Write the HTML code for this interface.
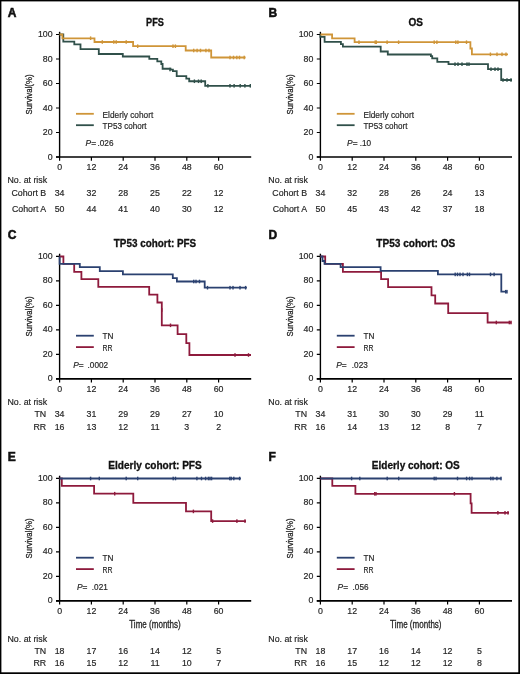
<!DOCTYPE html><html><head><meta charset="utf-8"><style>html,body{margin:0;padding:0;background:#fff;}svg{display:block;will-change:transform;}text{font-family:"Liberation Sans",sans-serif;}text.r{stroke:#262626;stroke-width:0.18;}</style></head><body>
<svg width="520" height="674" viewBox="0 0 520 674">
<rect x="0" y="0" width="520" height="674" fill="#fff"/>
<text x="7.80" y="16.80" font-size="12.0" font-weight="bold" fill="#111" stroke="#111" stroke-width="0.55">A</text>
<text x="155.00" y="25.80" font-size="10.0" text-anchor="middle" font-weight="bold" textLength="17.8" lengthAdjust="spacingAndGlyphs" fill="#111" stroke="#111" stroke-width="0.3">PFS</text>
<path d="M59.60,31.80 V157.00" stroke="#000" stroke-width="1.4" fill="none"/>
<path d="M56.00,157.00 H251.20" stroke="#000" stroke-width="1.7" fill="none"/>
<path d="M56.00,157.00 H59.60 M56.00,132.50 H59.60 M56.00,108.00 H59.60 M56.00,83.50 H59.60 M56.00,59.00 H59.60 M56.00,34.50 H59.60 M59.60,157.00 V160.70 M91.40,157.00 V160.70 M123.20,157.00 V160.70 M155.00,157.00 V160.70 M186.80,157.00 V160.70 M218.60,157.00 V160.70 " stroke="#000" stroke-width="1.2" fill="none"/>
<text x="52.60" y="159.50" font-size="8.8" text-anchor="end" fill="#262626" class="r">0</text>
<text x="52.60" y="135.00" font-size="8.8" text-anchor="end" fill="#262626" class="r">20</text>
<text x="52.60" y="110.50" font-size="8.8" text-anchor="end" fill="#262626" class="r">40</text>
<text x="52.60" y="86.00" font-size="8.8" text-anchor="end" fill="#262626" class="r">60</text>
<text x="52.60" y="61.50" font-size="8.8" text-anchor="end" fill="#262626" class="r">80</text>
<text x="52.60" y="37.00" font-size="8.8" text-anchor="end" fill="#262626" class="r">100</text>
<text x="59.60" y="170.40" font-size="8.8" text-anchor="middle" fill="#262626" class="r">0</text>
<text x="91.40" y="170.40" font-size="8.8" text-anchor="middle" fill="#262626" class="r">12</text>
<text x="123.20" y="170.40" font-size="8.8" text-anchor="middle" fill="#262626" class="r">24</text>
<text x="155.00" y="170.40" font-size="8.8" text-anchor="middle" fill="#262626" class="r">36</text>
<text x="186.80" y="170.40" font-size="8.8" text-anchor="middle" fill="#262626" class="r">48</text>
<text x="218.60" y="170.40" font-size="8.8" text-anchor="middle" fill="#262626" class="r">60</text>
<text transform="translate(32.30,94.50) rotate(-90)" x="0" y="0" font-size="9.8" text-anchor="middle" textLength="40" lengthAdjust="spacingAndGlyphs" fill="#262626" stroke="#262626" stroke-width="0.3">Survival(%)</text>
<path d="M76.00,113.80 H93.80" stroke="#CF9538" stroke-width="1.8"/>
<path d="M76.00,125.20 H93.80" stroke="#30504A" stroke-width="1.8"/>
<text x="102.60" y="118.10" font-size="8.8" textLength="50.6" lengthAdjust="spacingAndGlyphs" fill="#262626" class="r">Elderly cohort</text>
<text x="102.60" y="129.40" font-size="8.8" textLength="44.0" lengthAdjust="spacingAndGlyphs" fill="#262626" class="r">TP53 cohort</text>
<text x="85.60" y="145.80" font-size="8.4" fill="#262626" class="r"><tspan font-style="italic">P</tspan>=</text>
<text x="97.50" y="145.80" font-size="8.2" fill="#262626" class="r">.026</text>
<text x="7.50" y="183.10" font-size="8.8" fill="#262626" class="r">No. at risk</text>
<text x="46.20" y="195.70" font-size="8.8" text-anchor="end" fill="#262626" class="r">Cohort B</text>
<text x="59.60" y="195.70" font-size="8.8" text-anchor="middle" fill="#262626" class="r">34</text>
<text x="91.40" y="195.70" font-size="8.8" text-anchor="middle" fill="#262626" class="r">32</text>
<text x="123.20" y="195.70" font-size="8.8" text-anchor="middle" fill="#262626" class="r">28</text>
<text x="155.00" y="195.70" font-size="8.8" text-anchor="middle" fill="#262626" class="r">25</text>
<text x="186.80" y="195.70" font-size="8.8" text-anchor="middle" fill="#262626" class="r">22</text>
<text x="218.60" y="195.70" font-size="8.8" text-anchor="middle" fill="#262626" class="r">12</text>
<text x="46.20" y="211.50" font-size="8.8" text-anchor="end" fill="#262626" class="r">Cohort A</text>
<text x="59.60" y="211.50" font-size="8.8" text-anchor="middle" fill="#262626" class="r">50</text>
<text x="91.40" y="211.50" font-size="8.8" text-anchor="middle" fill="#262626" class="r">44</text>
<text x="123.20" y="211.50" font-size="8.8" text-anchor="middle" fill="#262626" class="r">41</text>
<text x="155.00" y="211.50" font-size="8.8" text-anchor="middle" fill="#262626" class="r">40</text>
<text x="186.80" y="211.50" font-size="8.8" text-anchor="middle" fill="#262626" class="r">30</text>
<text x="218.60" y="211.50" font-size="8.8" text-anchor="middle" fill="#262626" class="r">12</text>
<path d="M59.6,34.5 H63.3 V41.6 H74.3 V44.4 H80.5 V49.2 H98.8 V54 H122.8 V56.5 H149.3 V58.9 H157.3 V61.3 H161.3 V64 H162.6 V68.75 H170.5 V69.7 H172.9 V71.2 H176.7 V76.2 H186.3 V78.7 H189.2 V81.25 H205.2 V85.8 H251" stroke="#30504A" stroke-width="1.8" fill="none" stroke-linejoin="miter"/>
<rect x="169.30" y="67.70" width="1.4" height="3.6" fill="#30504A"/>
<rect x="193.70" y="79.45" width="1.4" height="3.6" fill="#30504A"/>
<rect x="197.80" y="79.45" width="1.4" height="3.6" fill="#30504A"/>
<rect x="200.50" y="79.45" width="1.4" height="3.6" fill="#30504A"/>
<rect x="207.20" y="84.00" width="1.4" height="3.6" fill="#30504A"/>
<rect x="229.30" y="84.00" width="1.4" height="3.6" fill="#30504A"/>
<rect x="233.40" y="84.00" width="1.4" height="3.6" fill="#30504A"/>
<rect x="239.50" y="84.00" width="1.4" height="3.6" fill="#30504A"/>
<rect x="244.20" y="84.00" width="1.4" height="3.6" fill="#30504A"/>
<rect x="249.60" y="84.00" width="1.4" height="3.6" fill="#30504A"/>
<path d="M59.6,34.5 H62.4 V38.3 H94.5 V42 H133.1 V46.2 H185.7 V50.5 H211.2 V57.5 H245.6" stroke="#CF9538" stroke-width="1.8" fill="none" stroke-linejoin="miter"/>
<rect x="89.90" y="36.40" width="1.4" height="3.6" fill="#CF9538"/>
<rect x="101.60" y="40.20" width="1.4" height="3.6" fill="#CF9538"/>
<rect x="113.10" y="40.20" width="1.4" height="3.6" fill="#CF9538"/>
<rect x="115.50" y="40.20" width="1.4" height="3.6" fill="#CF9538"/>
<rect x="125.50" y="40.20" width="1.4" height="3.6" fill="#CF9538"/>
<rect x="137.00" y="44.40" width="1.4" height="3.6" fill="#CF9538"/>
<rect x="172.30" y="44.40" width="1.4" height="3.6" fill="#CF9538"/>
<rect x="174.70" y="44.40" width="1.4" height="3.6" fill="#CF9538"/>
<rect x="193.00" y="48.70" width="1.4" height="3.6" fill="#CF9538"/>
<rect x="196.40" y="48.70" width="1.4" height="3.6" fill="#CF9538"/>
<rect x="199.80" y="48.70" width="1.4" height="3.6" fill="#CF9538"/>
<rect x="205.20" y="48.70" width="1.4" height="3.6" fill="#CF9538"/>
<rect x="208.30" y="48.70" width="1.4" height="3.6" fill="#CF9538"/>
<rect x="229.30" y="55.70" width="1.4" height="3.6" fill="#CF9538"/>
<rect x="232.80" y="55.70" width="1.4" height="3.6" fill="#CF9538"/>
<rect x="236.10" y="55.70" width="1.4" height="3.6" fill="#CF9538"/>
<rect x="238.80" y="55.70" width="1.4" height="3.6" fill="#CF9538"/>
<rect x="243.50" y="55.70" width="1.4" height="3.6" fill="#CF9538"/>
<text x="268.60" y="16.80" font-size="12.0" font-weight="bold" fill="#111" stroke="#111" stroke-width="0.55">B</text>
<text x="415.80" y="25.80" font-size="10.0" text-anchor="middle" font-weight="bold" textLength="14.5" lengthAdjust="spacingAndGlyphs" fill="#111" stroke="#111" stroke-width="0.3">OS</text>
<path d="M320.40,31.80 V157.00" stroke="#000" stroke-width="1.4" fill="none"/>
<path d="M316.80,157.00 H512.00" stroke="#000" stroke-width="1.7" fill="none"/>
<path d="M316.80,157.00 H320.40 M316.80,132.50 H320.40 M316.80,108.00 H320.40 M316.80,83.50 H320.40 M316.80,59.00 H320.40 M316.80,34.50 H320.40 M320.40,157.00 V160.70 M352.20,157.00 V160.70 M384.00,157.00 V160.70 M415.80,157.00 V160.70 M447.60,157.00 V160.70 M479.40,157.00 V160.70 " stroke="#000" stroke-width="1.2" fill="none"/>
<text x="313.40" y="159.50" font-size="8.8" text-anchor="end" fill="#262626" class="r">0</text>
<text x="313.40" y="135.00" font-size="8.8" text-anchor="end" fill="#262626" class="r">20</text>
<text x="313.40" y="110.50" font-size="8.8" text-anchor="end" fill="#262626" class="r">40</text>
<text x="313.40" y="86.00" font-size="8.8" text-anchor="end" fill="#262626" class="r">60</text>
<text x="313.40" y="61.50" font-size="8.8" text-anchor="end" fill="#262626" class="r">80</text>
<text x="313.40" y="37.00" font-size="8.8" text-anchor="end" fill="#262626" class="r">100</text>
<text x="320.40" y="170.40" font-size="8.8" text-anchor="middle" fill="#262626" class="r">0</text>
<text x="352.20" y="170.40" font-size="8.8" text-anchor="middle" fill="#262626" class="r">12</text>
<text x="384.00" y="170.40" font-size="8.8" text-anchor="middle" fill="#262626" class="r">24</text>
<text x="415.80" y="170.40" font-size="8.8" text-anchor="middle" fill="#262626" class="r">36</text>
<text x="447.60" y="170.40" font-size="8.8" text-anchor="middle" fill="#262626" class="r">48</text>
<text x="479.40" y="170.40" font-size="8.8" text-anchor="middle" fill="#262626" class="r">60</text>
<text transform="translate(293.10,94.50) rotate(-90)" x="0" y="0" font-size="9.8" text-anchor="middle" textLength="40" lengthAdjust="spacingAndGlyphs" fill="#262626" stroke="#262626" stroke-width="0.3">Survival(%)</text>
<path d="M336.80,113.80 H354.60" stroke="#CF9538" stroke-width="1.8"/>
<path d="M336.80,125.20 H354.60" stroke="#30504A" stroke-width="1.8"/>
<text x="363.40" y="118.10" font-size="8.8" textLength="50.6" lengthAdjust="spacingAndGlyphs" fill="#262626" class="r">Elderly cohort</text>
<text x="363.40" y="129.40" font-size="8.8" textLength="44.0" lengthAdjust="spacingAndGlyphs" fill="#262626" class="r">TP53 cohort</text>
<text x="347.10" y="145.80" font-size="8.4" fill="#262626" class="r"><tspan font-style="italic">P</tspan>=</text>
<text x="359.70" y="145.80" font-size="8.2" fill="#262626" class="r">.10</text>
<text x="268.30" y="183.10" font-size="8.8" fill="#262626" class="r">No. at risk</text>
<text x="307.00" y="195.70" font-size="8.8" text-anchor="end" fill="#262626" class="r">Cohort B</text>
<text x="320.40" y="195.70" font-size="8.8" text-anchor="middle" fill="#262626" class="r">34</text>
<text x="352.20" y="195.70" font-size="8.8" text-anchor="middle" fill="#262626" class="r">32</text>
<text x="384.00" y="195.70" font-size="8.8" text-anchor="middle" fill="#262626" class="r">28</text>
<text x="415.80" y="195.70" font-size="8.8" text-anchor="middle" fill="#262626" class="r">26</text>
<text x="447.60" y="195.70" font-size="8.8" text-anchor="middle" fill="#262626" class="r">24</text>
<text x="479.40" y="195.70" font-size="8.8" text-anchor="middle" fill="#262626" class="r">13</text>
<text x="307.00" y="211.50" font-size="8.8" text-anchor="end" fill="#262626" class="r">Cohort A</text>
<text x="320.40" y="211.50" font-size="8.8" text-anchor="middle" fill="#262626" class="r">50</text>
<text x="352.20" y="211.50" font-size="8.8" text-anchor="middle" fill="#262626" class="r">45</text>
<text x="384.00" y="211.50" font-size="8.8" text-anchor="middle" fill="#262626" class="r">43</text>
<text x="415.80" y="211.50" font-size="8.8" text-anchor="middle" fill="#262626" class="r">42</text>
<text x="447.60" y="211.50" font-size="8.8" text-anchor="middle" fill="#262626" class="r">37</text>
<text x="479.40" y="211.50" font-size="8.8" text-anchor="middle" fill="#262626" class="r">18</text>
<path d="M320.4,34.5 V36.9 H324.6 V41.8 H340.9 V44.1 H342.9 V46.6 H380.7 V51.5 H387.8 V54.5 H430.9 V56.2 H432.2 V58.3 H437.3 V61.8 H448.5 V64.2 H488 V69.2 H501.2 V80 H512" stroke="#30504A" stroke-width="1.8" fill="none" stroke-linejoin="miter"/>
<rect x="454.30" y="62.40" width="1.4" height="3.6" fill="#30504A"/>
<rect x="457.30" y="62.40" width="1.4" height="3.6" fill="#30504A"/>
<rect x="461.30" y="62.40" width="1.4" height="3.6" fill="#30504A"/>
<rect x="466.30" y="62.40" width="1.4" height="3.6" fill="#30504A"/>
<rect x="468.30" y="62.40" width="1.4" height="3.6" fill="#30504A"/>
<rect x="490.30" y="67.40" width="1.4" height="3.6" fill="#30504A"/>
<rect x="494.30" y="67.40" width="1.4" height="3.6" fill="#30504A"/>
<rect x="497.30" y="67.40" width="1.4" height="3.6" fill="#30504A"/>
<rect x="502.30" y="78.20" width="1.4" height="3.6" fill="#30504A"/>
<rect x="506.30" y="78.20" width="1.4" height="3.6" fill="#30504A"/>
<rect x="510.30" y="78.20" width="1.4" height="3.6" fill="#30504A"/>
<path d="M320.4,34.5 H332.1 V38.3 H354.6 V42.2 H470.4 V48.5 H471.9 V54.3 H508" stroke="#CF9538" stroke-width="1.8" fill="none" stroke-linejoin="miter"/>
<rect x="358.30" y="40.40" width="1.4" height="3.6" fill="#CF9538"/>
<rect x="374.50" y="40.40" width="1.4" height="3.6" fill="#CF9538"/>
<rect x="375.60" y="40.40" width="1.4" height="3.6" fill="#CF9538"/>
<rect x="386.40" y="40.40" width="1.4" height="3.6" fill="#CF9538"/>
<rect x="397.90" y="40.40" width="1.4" height="3.6" fill="#CF9538"/>
<rect x="433.50" y="40.40" width="1.4" height="3.6" fill="#CF9538"/>
<rect x="436.20" y="40.40" width="1.4" height="3.6" fill="#CF9538"/>
<rect x="455.10" y="40.40" width="1.4" height="3.6" fill="#CF9538"/>
<rect x="457.20" y="40.40" width="1.4" height="3.6" fill="#CF9538"/>
<rect x="465.80" y="40.40" width="1.4" height="3.6" fill="#CF9538"/>
<rect x="489.70" y="52.50" width="1.4" height="3.6" fill="#CF9538"/>
<rect x="496.30" y="52.50" width="1.4" height="3.6" fill="#CF9538"/>
<rect x="501.30" y="52.50" width="1.4" height="3.6" fill="#CF9538"/>
<rect x="505.30" y="52.50" width="1.4" height="3.6" fill="#CF9538"/>
<text x="7.80" y="238.70" font-size="12.0" font-weight="bold" fill="#111" stroke="#111" stroke-width="0.55">C</text>
<text x="155.00" y="247.30" font-size="10.0" text-anchor="middle" font-weight="bold" textLength="82.4" lengthAdjust="spacingAndGlyphs" fill="#111" stroke="#111" stroke-width="0.3">TP53 cohort: PFS</text>
<path d="M59.60,253.70 V378.90" stroke="#000" stroke-width="1.4" fill="none"/>
<path d="M56.00,378.90 H251.20" stroke="#000" stroke-width="1.7" fill="none"/>
<path d="M56.00,378.90 H59.60 M56.00,354.40 H59.60 M56.00,329.90 H59.60 M56.00,305.40 H59.60 M56.00,280.90 H59.60 M56.00,256.40 H59.60 M59.60,378.90 V382.60 M91.40,378.90 V382.60 M123.20,378.90 V382.60 M155.00,378.90 V382.60 M186.80,378.90 V382.60 M218.60,378.90 V382.60 " stroke="#000" stroke-width="1.2" fill="none"/>
<text x="52.60" y="381.40" font-size="8.8" text-anchor="end" fill="#262626" class="r">0</text>
<text x="52.60" y="356.90" font-size="8.8" text-anchor="end" fill="#262626" class="r">20</text>
<text x="52.60" y="332.40" font-size="8.8" text-anchor="end" fill="#262626" class="r">40</text>
<text x="52.60" y="307.90" font-size="8.8" text-anchor="end" fill="#262626" class="r">60</text>
<text x="52.60" y="283.40" font-size="8.8" text-anchor="end" fill="#262626" class="r">80</text>
<text x="52.60" y="258.90" font-size="8.8" text-anchor="end" fill="#262626" class="r">100</text>
<text x="59.60" y="392.30" font-size="8.8" text-anchor="middle" fill="#262626" class="r">0</text>
<text x="91.40" y="392.30" font-size="8.8" text-anchor="middle" fill="#262626" class="r">12</text>
<text x="123.20" y="392.30" font-size="8.8" text-anchor="middle" fill="#262626" class="r">24</text>
<text x="155.00" y="392.30" font-size="8.8" text-anchor="middle" fill="#262626" class="r">36</text>
<text x="186.80" y="392.30" font-size="8.8" text-anchor="middle" fill="#262626" class="r">48</text>
<text x="218.60" y="392.30" font-size="8.8" text-anchor="middle" fill="#262626" class="r">60</text>
<text transform="translate(32.30,316.40) rotate(-90)" x="0" y="0" font-size="9.8" text-anchor="middle" textLength="40" lengthAdjust="spacingAndGlyphs" fill="#262626" stroke="#262626" stroke-width="0.3">Survival(%)</text>
<path d="M76.00,335.70 H93.80" stroke="#2B4170" stroke-width="1.8"/>
<path d="M76.00,347.10 H93.80" stroke="#8E1A3C" stroke-width="1.8"/>
<text x="102.60" y="339.40" font-size="8.8" textLength="10.9" lengthAdjust="spacingAndGlyphs" fill="#262626" class="r">TN</text>
<text x="102.60" y="351.30" font-size="8.8" textLength="10.0" lengthAdjust="spacingAndGlyphs" fill="#262626" class="r">RR</text>
<text x="73.20" y="367.70" font-size="8.4" fill="#262626" class="r"><tspan font-style="italic">P</tspan>=</text>
<text x="87.60" y="367.70" font-size="8.2" fill="#262626" class="r">.0002</text>
<text x="7.50" y="405.40" font-size="8.8" fill="#262626" class="r">No. at risk</text>
<text x="46.20" y="417.40" font-size="8.8" text-anchor="end" fill="#262626" class="r">TN</text>
<text x="59.60" y="417.40" font-size="8.8" text-anchor="middle" fill="#262626" class="r">34</text>
<text x="91.40" y="417.40" font-size="8.8" text-anchor="middle" fill="#262626" class="r">31</text>
<text x="123.20" y="417.40" font-size="8.8" text-anchor="middle" fill="#262626" class="r">29</text>
<text x="155.00" y="417.40" font-size="8.8" text-anchor="middle" fill="#262626" class="r">29</text>
<text x="186.80" y="417.40" font-size="8.8" text-anchor="middle" fill="#262626" class="r">27</text>
<text x="218.60" y="417.40" font-size="8.8" text-anchor="middle" fill="#262626" class="r">10</text>
<text x="46.20" y="430.00" font-size="8.8" text-anchor="end" fill="#262626" class="r">RR</text>
<text x="59.60" y="430.00" font-size="8.8" text-anchor="middle" fill="#262626" class="r">16</text>
<text x="91.40" y="430.00" font-size="8.8" text-anchor="middle" fill="#262626" class="r">13</text>
<text x="123.20" y="430.00" font-size="8.8" text-anchor="middle" fill="#262626" class="r">12</text>
<text x="155.00" y="430.00" font-size="8.8" text-anchor="middle" fill="#262626" class="r">11</text>
<text x="186.80" y="430.00" font-size="8.8" text-anchor="middle" fill="#262626" class="r">3</text>
<text x="218.60" y="430.00" font-size="8.8" text-anchor="middle" fill="#262626" class="r">2</text>
<path d="M59.6,256.5 H63.4 V263.8 H74.2 V271.8 H81.4 V279.2 H98.3 V286.9 H149.2 V294.7 H157.4 V302.5 H161.8 V325.3 H177.6 V334.1 H186.3 V343.2 H189.4 V355 H251" stroke="#8E1A3C" stroke-width="1.8" fill="none" stroke-linejoin="miter"/>
<rect x="161.10" y="308.20" width="1.4" height="3.6" fill="#8E1A3C"/>
<rect x="169.80" y="323.50" width="1.4" height="3.6" fill="#8E1A3C"/>
<rect x="234.30" y="353.20" width="1.4" height="3.6" fill="#8E1A3C"/>
<rect x="247.80" y="353.20" width="1.4" height="3.6" fill="#8E1A3C"/>
<path d="M59.6,256.5 V263.8 H79.8 V267.2 H99.8 V271.2 H122.9 V274.3 H172.8 V278.2 H176.9 V281.5 H204.7 V287.7 H246.9" stroke="#2B4170" stroke-width="1.8" fill="none" stroke-linejoin="miter"/>
<rect x="193.05" y="279.70" width="1.4" height="3.6" fill="#2B4170"/>
<rect x="195.30" y="279.70" width="1.4" height="3.6" fill="#2B4170"/>
<rect x="198.80" y="279.70" width="1.4" height="3.6" fill="#2B4170"/>
<rect x="206.80" y="285.90" width="1.4" height="3.6" fill="#2B4170"/>
<rect x="229.30" y="285.90" width="1.4" height="3.6" fill="#2B4170"/>
<rect x="232.30" y="285.90" width="1.4" height="3.6" fill="#2B4170"/>
<rect x="239.30" y="285.90" width="1.4" height="3.6" fill="#2B4170"/>
<rect x="244.90" y="285.90" width="1.4" height="3.6" fill="#2B4170"/>
<text x="268.60" y="238.70" font-size="12.0" font-weight="bold" fill="#111" stroke="#111" stroke-width="0.55">D</text>
<text x="415.80" y="247.30" font-size="10.0" text-anchor="middle" font-weight="bold" textLength="79" lengthAdjust="spacingAndGlyphs" fill="#111" stroke="#111" stroke-width="0.3">TP53 cohort: OS</text>
<path d="M320.40,253.70 V378.90" stroke="#000" stroke-width="1.4" fill="none"/>
<path d="M316.80,378.90 H512.00" stroke="#000" stroke-width="1.7" fill="none"/>
<path d="M316.80,378.90 H320.40 M316.80,354.40 H320.40 M316.80,329.90 H320.40 M316.80,305.40 H320.40 M316.80,280.90 H320.40 M316.80,256.40 H320.40 M320.40,378.90 V382.60 M352.20,378.90 V382.60 M384.00,378.90 V382.60 M415.80,378.90 V382.60 M447.60,378.90 V382.60 M479.40,378.90 V382.60 " stroke="#000" stroke-width="1.2" fill="none"/>
<text x="313.40" y="381.40" font-size="8.8" text-anchor="end" fill="#262626" class="r">0</text>
<text x="313.40" y="356.90" font-size="8.8" text-anchor="end" fill="#262626" class="r">20</text>
<text x="313.40" y="332.40" font-size="8.8" text-anchor="end" fill="#262626" class="r">40</text>
<text x="313.40" y="307.90" font-size="8.8" text-anchor="end" fill="#262626" class="r">60</text>
<text x="313.40" y="283.40" font-size="8.8" text-anchor="end" fill="#262626" class="r">80</text>
<text x="313.40" y="258.90" font-size="8.8" text-anchor="end" fill="#262626" class="r">100</text>
<text x="320.40" y="392.30" font-size="8.8" text-anchor="middle" fill="#262626" class="r">0</text>
<text x="352.20" y="392.30" font-size="8.8" text-anchor="middle" fill="#262626" class="r">12</text>
<text x="384.00" y="392.30" font-size="8.8" text-anchor="middle" fill="#262626" class="r">24</text>
<text x="415.80" y="392.30" font-size="8.8" text-anchor="middle" fill="#262626" class="r">36</text>
<text x="447.60" y="392.30" font-size="8.8" text-anchor="middle" fill="#262626" class="r">48</text>
<text x="479.40" y="392.30" font-size="8.8" text-anchor="middle" fill="#262626" class="r">60</text>
<text transform="translate(293.10,316.40) rotate(-90)" x="0" y="0" font-size="9.8" text-anchor="middle" textLength="40" lengthAdjust="spacingAndGlyphs" fill="#262626" stroke="#262626" stroke-width="0.3">Survival(%)</text>
<path d="M336.80,335.70 H354.60" stroke="#2B4170" stroke-width="1.8"/>
<path d="M336.80,347.10 H354.60" stroke="#8E1A3C" stroke-width="1.8"/>
<text x="363.40" y="339.40" font-size="8.8" textLength="10.9" lengthAdjust="spacingAndGlyphs" fill="#262626" class="r">TN</text>
<text x="363.40" y="351.30" font-size="8.8" textLength="10.0" lengthAdjust="spacingAndGlyphs" fill="#262626" class="r">RR</text>
<text x="336.20" y="367.70" font-size="8.4" fill="#262626" class="r"><tspan font-style="italic">P</tspan>=</text>
<text x="351.80" y="367.70" font-size="8.2" fill="#262626" class="r">.023</text>
<text x="268.30" y="405.40" font-size="8.8" fill="#262626" class="r">No. at risk</text>
<text x="307.00" y="417.40" font-size="8.8" text-anchor="end" fill="#262626" class="r">TN</text>
<text x="320.40" y="417.40" font-size="8.8" text-anchor="middle" fill="#262626" class="r">34</text>
<text x="352.20" y="417.40" font-size="8.8" text-anchor="middle" fill="#262626" class="r">31</text>
<text x="384.00" y="417.40" font-size="8.8" text-anchor="middle" fill="#262626" class="r">30</text>
<text x="415.80" y="417.40" font-size="8.8" text-anchor="middle" fill="#262626" class="r">30</text>
<text x="447.60" y="417.40" font-size="8.8" text-anchor="middle" fill="#262626" class="r">29</text>
<text x="479.40" y="417.40" font-size="8.8" text-anchor="middle" fill="#262626" class="r">11</text>
<text x="307.00" y="430.00" font-size="8.8" text-anchor="end" fill="#262626" class="r">RR</text>
<text x="320.40" y="430.00" font-size="8.8" text-anchor="middle" fill="#262626" class="r">16</text>
<text x="352.20" y="430.00" font-size="8.8" text-anchor="middle" fill="#262626" class="r">14</text>
<text x="384.00" y="430.00" font-size="8.8" text-anchor="middle" fill="#262626" class="r">13</text>
<text x="415.80" y="430.00" font-size="8.8" text-anchor="middle" fill="#262626" class="r">12</text>
<text x="447.60" y="430.00" font-size="8.8" text-anchor="middle" fill="#262626" class="r">8</text>
<text x="479.40" y="430.00" font-size="8.8" text-anchor="middle" fill="#262626" class="r">7</text>
<path d="M320.4,256.5 H325.2 V263.8 H342.9 V271.8 H381.1 V279.1 H388.1 V287.2 H431.5 V295.3 H435.2 V303.5 H448.2 V313.1 H487.6 V322.5 H511.4" stroke="#8E1A3C" stroke-width="1.8" fill="none" stroke-linejoin="miter"/>
<rect x="495.60" y="320.70" width="1.4" height="3.6" fill="#8E1A3C"/>
<rect x="508.60" y="320.70" width="1.4" height="3.6" fill="#8E1A3C"/>
<rect x="510.30" y="320.70" width="1.4" height="3.6" fill="#8E1A3C"/>
<path d="M320.4,256.5 H322.5 V261 H324.5 V263.8 H340.6 V267.2 H380.6 V270.8 H437.9 V274.4 H501.3 V291.7 H507.1" stroke="#2B4170" stroke-width="1.8" fill="none" stroke-linejoin="miter"/>
<rect x="454.50" y="272.60" width="1.4" height="3.6" fill="#2B4170"/>
<rect x="456.80" y="272.60" width="1.4" height="3.6" fill="#2B4170"/>
<rect x="459.30" y="272.60" width="1.4" height="3.6" fill="#2B4170"/>
<rect x="462.30" y="272.60" width="1.4" height="3.6" fill="#2B4170"/>
<rect x="466.70" y="272.60" width="1.4" height="3.6" fill="#2B4170"/>
<rect x="468.80" y="272.60" width="1.4" height="3.6" fill="#2B4170"/>
<rect x="489.80" y="272.60" width="1.4" height="3.6" fill="#2B4170"/>
<rect x="493.40" y="272.60" width="1.4" height="3.6" fill="#2B4170"/>
<rect x="505.00" y="289.90" width="1.4" height="3.6" fill="#2B4170"/>
<rect x="506.30" y="289.90" width="1.4" height="3.6" fill="#2B4170"/>
<text x="7.80" y="460.70" font-size="12.0" font-weight="bold" fill="#111" stroke="#111" stroke-width="0.55">E</text>
<text x="155.00" y="469.30" font-size="10.0" text-anchor="middle" font-weight="bold" textLength="93.5" lengthAdjust="spacingAndGlyphs" fill="#111" stroke="#111" stroke-width="0.3">Elderly cohort: PFS</text>
<path d="M59.60,475.70 V600.90" stroke="#000" stroke-width="1.4" fill="none"/>
<path d="M56.00,600.90 H251.20" stroke="#000" stroke-width="1.7" fill="none"/>
<path d="M56.00,600.90 H59.60 M56.00,576.40 H59.60 M56.00,551.90 H59.60 M56.00,527.40 H59.60 M56.00,502.90 H59.60 M56.00,478.40 H59.60 M59.60,600.90 V604.60 M91.40,600.90 V604.60 M123.20,600.90 V604.60 M155.00,600.90 V604.60 M186.80,600.90 V604.60 M218.60,600.90 V604.60 " stroke="#000" stroke-width="1.2" fill="none"/>
<text x="52.60" y="603.40" font-size="8.8" text-anchor="end" fill="#262626" class="r">0</text>
<text x="52.60" y="578.90" font-size="8.8" text-anchor="end" fill="#262626" class="r">20</text>
<text x="52.60" y="554.40" font-size="8.8" text-anchor="end" fill="#262626" class="r">40</text>
<text x="52.60" y="529.90" font-size="8.8" text-anchor="end" fill="#262626" class="r">60</text>
<text x="52.60" y="505.40" font-size="8.8" text-anchor="end" fill="#262626" class="r">80</text>
<text x="52.60" y="480.90" font-size="8.8" text-anchor="end" fill="#262626" class="r">100</text>
<text x="59.60" y="614.30" font-size="8.8" text-anchor="middle" fill="#262626" class="r">0</text>
<text x="91.40" y="614.30" font-size="8.8" text-anchor="middle" fill="#262626" class="r">12</text>
<text x="123.20" y="614.30" font-size="8.8" text-anchor="middle" fill="#262626" class="r">24</text>
<text x="155.00" y="614.30" font-size="8.8" text-anchor="middle" fill="#262626" class="r">36</text>
<text x="186.80" y="614.30" font-size="8.8" text-anchor="middle" fill="#262626" class="r">48</text>
<text x="218.60" y="614.30" font-size="8.8" text-anchor="middle" fill="#262626" class="r">60</text>
<text transform="translate(32.30,538.40) rotate(-90)" x="0" y="0" font-size="9.8" text-anchor="middle" textLength="40" lengthAdjust="spacingAndGlyphs" fill="#262626" stroke="#262626" stroke-width="0.3">Survival(%)</text>
<path d="M76.00,557.70 H93.80" stroke="#2B4170" stroke-width="1.8"/>
<path d="M76.00,569.10 H93.80" stroke="#8E1A3C" stroke-width="1.8"/>
<text x="102.60" y="561.40" font-size="8.8" textLength="10.9" lengthAdjust="spacingAndGlyphs" fill="#262626" class="r">TN</text>
<text x="102.60" y="573.30" font-size="8.8" textLength="10.0" lengthAdjust="spacingAndGlyphs" fill="#262626" class="r">RR</text>
<text x="76.90" y="589.70" font-size="8.4" fill="#262626" class="r"><tspan font-style="italic">P</tspan>=</text>
<text x="91.80" y="589.70" font-size="8.2" fill="#262626" class="r">.021</text>
<text x="7.50" y="641.50" font-size="8.8" fill="#262626" class="r">No. at risk</text>
<text x="46.20" y="653.80" font-size="8.8" text-anchor="end" fill="#262626" class="r">TN</text>
<text x="59.60" y="653.80" font-size="8.8" text-anchor="middle" fill="#262626" class="r">18</text>
<text x="91.40" y="653.80" font-size="8.8" text-anchor="middle" fill="#262626" class="r">17</text>
<text x="123.20" y="653.80" font-size="8.8" text-anchor="middle" fill="#262626" class="r">16</text>
<text x="155.00" y="653.80" font-size="8.8" text-anchor="middle" fill="#262626" class="r">14</text>
<text x="186.80" y="653.80" font-size="8.8" text-anchor="middle" fill="#262626" class="r">12</text>
<text x="218.60" y="653.80" font-size="8.8" text-anchor="middle" fill="#262626" class="r">5</text>
<text x="46.20" y="666.20" font-size="8.8" text-anchor="end" fill="#262626" class="r">RR</text>
<text x="59.60" y="666.20" font-size="8.8" text-anchor="middle" fill="#262626" class="r">16</text>
<text x="91.40" y="666.20" font-size="8.8" text-anchor="middle" fill="#262626" class="r">15</text>
<text x="123.20" y="666.20" font-size="8.8" text-anchor="middle" fill="#262626" class="r">12</text>
<text x="155.00" y="666.20" font-size="8.8" text-anchor="middle" fill="#262626" class="r">11</text>
<text x="186.80" y="666.20" font-size="8.8" text-anchor="middle" fill="#262626" class="r">10</text>
<text x="218.60" y="666.20" font-size="8.8" text-anchor="middle" fill="#262626" class="r">7</text>
<text x="155.00" y="628.40" font-size="10" text-anchor="middle" textLength="51.5" lengthAdjust="spacingAndGlyphs" fill="#262626" stroke="#262626" stroke-width="0.3">Time (months)</text>
<path d="M59.6,478.5 H61.8 V485.8 H94.1 V493.7 H133.3 V502.8 H186 V511.4 H211.2 V521.1 H246" stroke="#8E1A3C" stroke-width="1.8" fill="none" stroke-linejoin="miter"/>
<rect x="114.00" y="491.90" width="1.4" height="3.6" fill="#8E1A3C"/>
<rect x="192.70" y="509.60" width="1.4" height="3.6" fill="#8E1A3C"/>
<rect x="211.90" y="519.30" width="1.4" height="3.6" fill="#8E1A3C"/>
<rect x="236.20" y="519.30" width="1.4" height="3.6" fill="#8E1A3C"/>
<rect x="244.30" y="519.30" width="1.4" height="3.6" fill="#8E1A3C"/>
<path d="M59.6,478.5 H240.9" stroke="#2B4170" stroke-width="1.8" fill="none" stroke-linejoin="miter"/>
<rect x="89.90" y="476.70" width="1.4" height="3.6" fill="#2B4170"/>
<rect x="98.60" y="476.70" width="1.4" height="3.6" fill="#2B4170"/>
<rect x="125.50" y="476.70" width="1.4" height="3.6" fill="#2B4170"/>
<rect x="137.00" y="476.70" width="1.4" height="3.6" fill="#2B4170"/>
<rect x="172.50" y="476.70" width="1.4" height="3.6" fill="#2B4170"/>
<rect x="174.80" y="476.70" width="1.4" height="3.6" fill="#2B4170"/>
<rect x="196.20" y="476.70" width="1.4" height="3.6" fill="#2B4170"/>
<rect x="200.80" y="476.70" width="1.4" height="3.6" fill="#2B4170"/>
<rect x="204.90" y="476.70" width="1.4" height="3.6" fill="#2B4170"/>
<rect x="207.70" y="476.70" width="1.4" height="3.6" fill="#2B4170"/>
<rect x="209.30" y="476.70" width="1.4" height="3.6" fill="#2B4170"/>
<rect x="210.90" y="476.70" width="1.4" height="3.6" fill="#2B4170"/>
<rect x="229.10" y="476.70" width="1.4" height="3.6" fill="#2B4170"/>
<rect x="230.50" y="476.70" width="1.4" height="3.6" fill="#2B4170"/>
<rect x="233.10" y="476.70" width="1.4" height="3.6" fill="#2B4170"/>
<rect x="238.90" y="476.70" width="1.4" height="3.6" fill="#2B4170"/>
<text x="268.60" y="460.70" font-size="12.0" font-weight="bold" fill="#111" stroke="#111" stroke-width="0.55">F</text>
<text x="415.80" y="469.30" font-size="10.0" text-anchor="middle" font-weight="bold" textLength="88" lengthAdjust="spacingAndGlyphs" fill="#111" stroke="#111" stroke-width="0.3">Elderly cohort: OS</text>
<path d="M320.40,475.70 V600.90" stroke="#000" stroke-width="1.4" fill="none"/>
<path d="M316.80,600.90 H512.00" stroke="#000" stroke-width="1.7" fill="none"/>
<path d="M316.80,600.90 H320.40 M316.80,576.40 H320.40 M316.80,551.90 H320.40 M316.80,527.40 H320.40 M316.80,502.90 H320.40 M316.80,478.40 H320.40 M320.40,600.90 V604.60 M352.20,600.90 V604.60 M384.00,600.90 V604.60 M415.80,600.90 V604.60 M447.60,600.90 V604.60 M479.40,600.90 V604.60 " stroke="#000" stroke-width="1.2" fill="none"/>
<text x="313.40" y="603.40" font-size="8.8" text-anchor="end" fill="#262626" class="r">0</text>
<text x="313.40" y="578.90" font-size="8.8" text-anchor="end" fill="#262626" class="r">20</text>
<text x="313.40" y="554.40" font-size="8.8" text-anchor="end" fill="#262626" class="r">40</text>
<text x="313.40" y="529.90" font-size="8.8" text-anchor="end" fill="#262626" class="r">60</text>
<text x="313.40" y="505.40" font-size="8.8" text-anchor="end" fill="#262626" class="r">80</text>
<text x="313.40" y="480.90" font-size="8.8" text-anchor="end" fill="#262626" class="r">100</text>
<text x="320.40" y="614.30" font-size="8.8" text-anchor="middle" fill="#262626" class="r">0</text>
<text x="352.20" y="614.30" font-size="8.8" text-anchor="middle" fill="#262626" class="r">12</text>
<text x="384.00" y="614.30" font-size="8.8" text-anchor="middle" fill="#262626" class="r">24</text>
<text x="415.80" y="614.30" font-size="8.8" text-anchor="middle" fill="#262626" class="r">36</text>
<text x="447.60" y="614.30" font-size="8.8" text-anchor="middle" fill="#262626" class="r">48</text>
<text x="479.40" y="614.30" font-size="8.8" text-anchor="middle" fill="#262626" class="r">60</text>
<text transform="translate(293.10,538.40) rotate(-90)" x="0" y="0" font-size="9.8" text-anchor="middle" textLength="40" lengthAdjust="spacingAndGlyphs" fill="#262626" stroke="#262626" stroke-width="0.3">Survival(%)</text>
<path d="M336.80,557.70 H354.60" stroke="#2B4170" stroke-width="1.8"/>
<path d="M336.80,569.10 H354.60" stroke="#8E1A3C" stroke-width="1.8"/>
<text x="363.40" y="561.40" font-size="8.8" textLength="10.9" lengthAdjust="spacingAndGlyphs" fill="#262626" class="r">TN</text>
<text x="363.40" y="573.30" font-size="8.8" textLength="10.0" lengthAdjust="spacingAndGlyphs" fill="#262626" class="r">RR</text>
<text x="337.60" y="589.70" font-size="8.4" fill="#262626" class="r"><tspan font-style="italic">P</tspan>=</text>
<text x="352.60" y="589.70" font-size="8.2" fill="#262626" class="r">.056</text>
<text x="268.30" y="641.50" font-size="8.8" fill="#262626" class="r">No. at risk</text>
<text x="307.00" y="653.80" font-size="8.8" text-anchor="end" fill="#262626" class="r">TN</text>
<text x="320.40" y="653.80" font-size="8.8" text-anchor="middle" fill="#262626" class="r">18</text>
<text x="352.20" y="653.80" font-size="8.8" text-anchor="middle" fill="#262626" class="r">17</text>
<text x="384.00" y="653.80" font-size="8.8" text-anchor="middle" fill="#262626" class="r">16</text>
<text x="415.80" y="653.80" font-size="8.8" text-anchor="middle" fill="#262626" class="r">14</text>
<text x="447.60" y="653.80" font-size="8.8" text-anchor="middle" fill="#262626" class="r">12</text>
<text x="479.40" y="653.80" font-size="8.8" text-anchor="middle" fill="#262626" class="r">5</text>
<text x="307.00" y="666.20" font-size="8.8" text-anchor="end" fill="#262626" class="r">RR</text>
<text x="320.40" y="666.20" font-size="8.8" text-anchor="middle" fill="#262626" class="r">16</text>
<text x="352.20" y="666.20" font-size="8.8" text-anchor="middle" fill="#262626" class="r">15</text>
<text x="384.00" y="666.20" font-size="8.8" text-anchor="middle" fill="#262626" class="r">12</text>
<text x="415.80" y="666.20" font-size="8.8" text-anchor="middle" fill="#262626" class="r">12</text>
<text x="447.60" y="666.20" font-size="8.8" text-anchor="middle" fill="#262626" class="r">12</text>
<text x="479.40" y="666.20" font-size="8.8" text-anchor="middle" fill="#262626" class="r">8</text>
<text x="415.80" y="628.40" font-size="10" text-anchor="middle" textLength="51.5" lengthAdjust="spacingAndGlyphs" fill="#262626" stroke="#262626" stroke-width="0.3">Time (months)</text>
<path d="M320.4,478.5 H332.3 V485.8 H355.4 V493.8 H470.6 V503.3 H471.6 V512.8 H509" stroke="#8E1A3C" stroke-width="1.8" fill="none" stroke-linejoin="miter"/>
<rect x="374.00" y="492.00" width="1.4" height="3.6" fill="#8E1A3C"/>
<rect x="375.30" y="492.00" width="1.4" height="3.6" fill="#8E1A3C"/>
<rect x="453.70" y="492.00" width="1.4" height="3.6" fill="#8E1A3C"/>
<rect x="497.20" y="511.00" width="1.4" height="3.6" fill="#8E1A3C"/>
<rect x="504.30" y="511.00" width="1.4" height="3.6" fill="#8E1A3C"/>
<rect x="507.30" y="511.00" width="1.4" height="3.6" fill="#8E1A3C"/>
<path d="M320.4,478.5 H501.3" stroke="#2B4170" stroke-width="1.8" fill="none" stroke-linejoin="miter"/>
<rect x="350.90" y="476.70" width="1.4" height="3.6" fill="#2B4170"/>
<rect x="359.10" y="476.70" width="1.4" height="3.6" fill="#2B4170"/>
<rect x="386.50" y="476.70" width="1.4" height="3.6" fill="#2B4170"/>
<rect x="398.00" y="476.70" width="1.4" height="3.6" fill="#2B4170"/>
<rect x="433.50" y="476.70" width="1.4" height="3.6" fill="#2B4170"/>
<rect x="435.30" y="476.70" width="1.4" height="3.6" fill="#2B4170"/>
<rect x="456.80" y="476.70" width="1.4" height="3.6" fill="#2B4170"/>
<rect x="465.90" y="476.70" width="1.4" height="3.6" fill="#2B4170"/>
<rect x="468.90" y="476.70" width="1.4" height="3.6" fill="#2B4170"/>
<rect x="471.30" y="476.70" width="1.4" height="3.6" fill="#2B4170"/>
<rect x="490.10" y="476.70" width="1.4" height="3.6" fill="#2B4170"/>
<rect x="492.30" y="476.70" width="1.4" height="3.6" fill="#2B4170"/>
<rect x="496.20" y="476.70" width="1.4" height="3.6" fill="#2B4170"/>
<rect x="500.30" y="476.70" width="1.4" height="3.6" fill="#2B4170"/>
<rect x="0" y="0" width="1.4" height="674" fill="#000"/>
<rect x="0" y="0" width="520" height="1.4" fill="#000"/>
<rect x="518.3" y="0" width="1.7" height="674" fill="#000"/>
<rect x="0" y="672.3" width="520" height="1.7" fill="#000"/>
</svg></body></html>
